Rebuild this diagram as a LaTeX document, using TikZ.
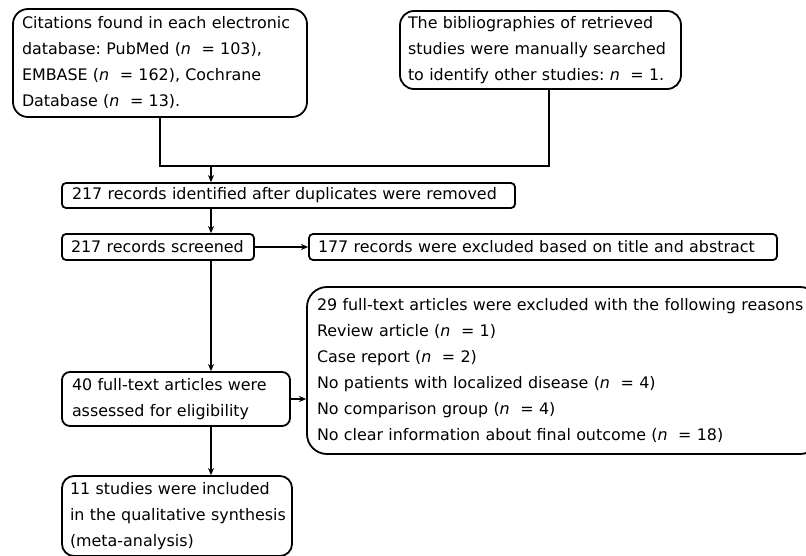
\documentclass[tikz,border=0pt]{standalone}
\usepackage{fontspec}
\setmainfont{DejaVu Sans}
\usetikzlibrary{arrows.meta,calc}
\newcommand\myboxfont{\fontsize{15.9}{26}\selectfont\hyphenpenalty=10000 \frenchspacing}
\begin{document}
\begin{tikzpicture}[x=1pt,y=-1pt,
  box/.style={draw,line width=1.8pt,inner xsep=10pt,inner ysep=0pt,align=left,
    font=\myboxfont,anchor=center},
  conn/.style={line width=1.6pt},
  arr/.style={line width=1.6pt,-{Stealth[length=7pt,width=6pt]}}]
\useasboundingbox (0,0) rectangle (806,556);
\begin{scope}
\clip (0,0) rectangle (806,556);
\node[box,rounded corners=15pt,minimum width=294pt,minimum height=108pt,text width=276pt,inner xsep=9pt] (A) at (160,63)
  {Citations found in each electronic\\database: PubMed (\textit{n}~~=~103),\\EMBASE (\textit{n}~~=~162), Cochrane\\Database (\textit{n}~~=~13).};
\node[box,rounded corners=14pt,minimum width=281pt,minimum height=78pt,text width=265pt,inner xsep=8pt] (B) at (540.5,50)
  {The bibliographies of retrieved\\studies were manually searched\\to identify other studies: \textit{n}~~=~1.};
\node[box,rounded corners=4pt,minimum width=453pt,minimum height=25pt,text width=433pt] (C) at (288.5,195.5)
  {217 records identified after duplicates were removed};
\node[box,rounded corners=4pt,minimum width=192pt,minimum height=26pt,text width=182pt,inner xsep=5pt] (D) at (158,247)
  {\hspace*{4pt}217 records screened};
\node[box,rounded corners=4pt,minimum width=468pt,minimum height=26pt,text width=450pt,inner xsep=9pt] (E) at (543,247)
  {177 records were excluded based on title and abstract};
\node[box,rounded corners=8pt,minimum width=228pt,minimum height=54pt,text width=208pt] (F) at (176,399)
  {40 full-text articles were\\assessed for eligibility};
\node[box,rounded corners=20pt,minimum width=513pt,minimum height=167pt,text width=493pt] (G) at (563.5,370.5)
  {29 full-text articles were excluded with the following reasons\\Review article (\textit{n}~~=~1)\\Case report (\textit{n}~~=~2)\\No patients with localized disease (\textit{n}~~=~4)\\No comparison group (\textit{n}~~=~4)\\No clear information about final outcome (\textit{n}~~=~18)};
\node[box,rounded corners=12pt,minimum width=230pt,minimum height=80pt,text width=222pt,inner xsep=4pt] (H) at (177,516)
  {\hspace*{4pt}11 studies were included\\\hspace*{4pt}in the qualitative synthesis\\\hspace*{4pt}(meta-analysis)};
\end{scope}
\coordinate (m) at (211,166);
\coordinate (jr) at (549,166);
\draw[conn] (A.south) |- (jr) -- (jr |- B.south);
\draw[arr] (m) -- (C.north -| m);
\draw[arr] (C.south -| m) -- (D.north -| m);
\draw[arr] (D.east) -- (E.west);
\draw[arr] (D.south -| m) -- (F.north -| m);
\draw[arr] (F.east) -- (F.east -| G.west);
\draw[arr] (F.south -| m) -- (H.north -| m);
\end{tikzpicture}
\end{document}
